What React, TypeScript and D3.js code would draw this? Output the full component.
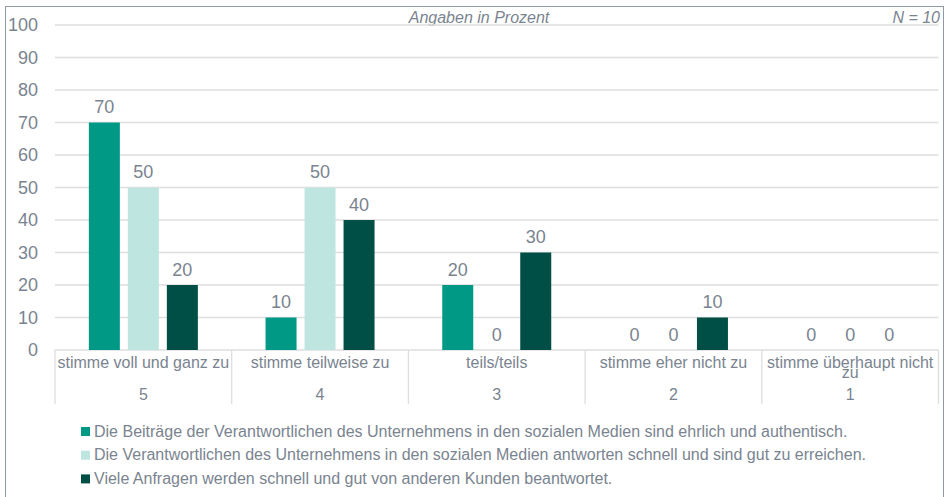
import * as d3 from "d3";

const categories = [
  "stimme voll und ganz zu",
  "stimme teilweise zu",
  "teils/teils",
  "stimme eher nicht zu",
  "stimme überhaupt nicht zu",
];
const codes = ["5", "4", "3", "2", "1"];
const seriesNames = [
  "Die Beiträge der Verantwortlichen des Unternehmens in den sozialen Medien sind ehrlich und authentisch.",
  "Die Verantwortlichen des Unternehmens in den sozialen Medien antworten schnell und sind gut zu erreichen.",
  "Viele Anfragen werden schnell und gut von anderen Kunden beantwortet.",
];
const beitraege = [70, 10, 20, 0, 0];
const erreichbar = [50, 50, 0, 0, 0];
const anfragen = [20, 40, 30, 10, 0];
const yTicks = [0, 10, 20, 30, 40, 50, 60, 70, 80, 90, 100];
const colors = ["#009985", "#bfe5e1", "#004f46"];

const FONT = "'Liberation Sans', Arial, sans-serif";
const TEXT = "#7a8490";

function wrap(label: string, maxWidth: number, font: string) {
  const ctx = document.createElement("canvas").getContext("2d")!;
  ctx.font = font;
  const words = label.split(" ");
  const lines: string[] = [];
  let cur = "";
  words.forEach((w) => {
    const test = cur ? cur + " " + w : w;
    if (ctx.measureText(test).width > maxWidth && cur) {
      lines.push(cur);
      cur = w;
    } else cur = test;
  });
  lines.push(cur);
  return lines;
}

export default function App() {
  const width = 945;
  const height = 497;
  const left = 55;
  const right = 938.5;
  const top = 25;
  const bottom = 350;

  const series = [beitraege, erreichbar, anfragen];

  const x0 = d3.scaleBand<string>().domain(categories).range([left, right]).padding(0);
  const x1 = d3
    .scaleBand<number>()
    .domain([0, 1, 2])
    .range([0, x0.bandwidth()])
    .paddingInner(0.205)
    .paddingOuter(0.868);
  const y = d3.scaleLinear().domain([0, 100]).range([bottom, top]);

  return (
    <svg
      width={width}
      height={height}
      style={{ position: "absolute", left: 0, top: 0, background: "#fff" }}
      fontFamily={FONT}
    >
      {/* frame */}
      <rect x={5.5} y={6.5} width={938} height={500} fill="none" stroke="#8f99a3" />

      <text x={479} y={23} textAnchor="middle" fontSize={16} fontStyle="italic" fill={TEXT}>
        Angaben in Prozent
      </text>
      <text x={940} y={23} textAnchor="end" fontSize={16} fontStyle="italic" fill={TEXT}>
        N = 10
      </text>

      {/* grid */}
      {yTicks.map((t) => (
        <g key={t}>
          <line x1={left} x2={right} y1={y(t)} y2={y(t)} stroke="#dedede" strokeWidth={1.3} />
          <text
            x={38}
            y={y(t)}
            dy="0.36em"
            textAnchor="end"
            fontSize={18}
            fill={TEXT}
          >
            {t}
          </text>
        </g>
      ))}

      {/* bars */}
      {categories.map((c, ci) => (
        <g key={c} transform={`translate(${x0(c)},0)`}>
          {series.map((s, si) => (
            <g key={si}>
              <rect
                x={x1(si)}
                y={y(s[ci])}
                width={x1.bandwidth()}
                height={bottom - y(s[ci])}
                fill={colors[si]}
              />
              <text
                x={x1(si)! + x1.bandwidth() / 2}
                y={y(s[ci]) - 9.5}
                textAnchor="middle"
                fontSize={18}
                fill={TEXT}
              >
                {s[ci]}
              </text>
            </g>
          ))}
        </g>
      ))}

      {/* category axis */}
      {categories.map((c, ci) => {
        const lines = wrap(c, x0.bandwidth(), `16px ${FONT}`);
        const cx = x0(c)! + x0.bandwidth() / 2;
        return (
          <g key={c}>
            <line x1={x0(c)} x2={x0(c)} y1={bottom} y2={404} stroke="#dedede" strokeWidth={1.3} />
            {lines.map((l, li) => (
              <text key={li} x={cx} y={368 + li * 10} textAnchor="middle" fontSize={16} fill={TEXT}>
                {l}
              </text>
            ))}
            <text x={cx} y={400} textAnchor="middle" fontSize={16} fill={TEXT}>
              {codes[ci]}
            </text>
          </g>
        );
      })}
      <line x1={right} x2={right} y1={bottom} y2={404} stroke="#dedede" strokeWidth={1.3} />

      {/* legend */}
      {seriesNames.map((n, i) => (
        <g key={n} transform={`translate(81,${427 + i * 23.7})`}>
          <rect width={9} height={9} fill={colors[i]} />
          <text x={13} y={9.5} fontSize={16} fill={TEXT}>
            {n}
          </text>
        </g>
      ))}
    </svg>
  );
}
